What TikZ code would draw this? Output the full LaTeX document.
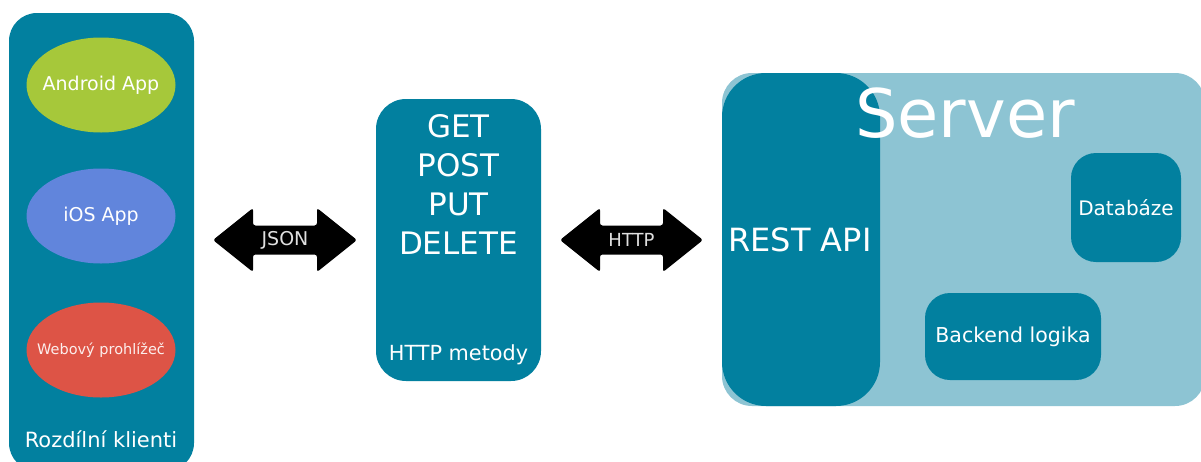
\documentclass[tikz,border=0pt]{standalone}
\usepackage{fontspec}
\setmainfont{DejaVu Sans}
\usetikzlibrary{shapes.geometric}
\definecolor{tealbox}{HTML}{02809F}
\definecolor{lightteal}{HTML}{8DC4D3}
\definecolor{andgreen}{HTML}{A6C83A}
\definecolor{iosblue}{HTML}{6185DC}
\definecolor{webred}{HTML}{DD5446}
\tikzset{
  panel/.style={fill=tealbox, draw=none, rounded corners=#1, inner sep=0pt},
  panel/.default=28pt,
  client/.style={ellipse, draw=none, minimum width=149pt, minimum height=95pt, inner sep=0pt},
  wtext/.style={text=white, inner sep=0pt},
  fsz/.style={font=\fontsize{#1}{#1}\selectfont},
  dblarrow/.style={fill=black, rounded corners=2.5pt},
}
\begin{document}
\begin{tikzpicture}[x=1pt,y=-1pt]
\clip (0,0) rectangle (1201,461);
\fill[white] (0,0) rectangle (1201,461);
% Clients panel
\node[panel, minimum width=185pt, minimum height=458pt] (clients) at (101.5,242) {};
\node[client, fill=andgreen] (android) at (101,85) {};
\node[wtext, fsz=19] (androidlbl) at (android) {Android App};
\node[client, fill=iosblue] (ios) at (101,216) {};
\node[wtext, fsz=19] (ioslbl) at (ios) {iOS App};
\node[client, fill=webred] (web) at (101,350) {};
\node[wtext, fsz=14.5, text=white!90!webred] (weblbl) at (web) {Webový prohlížeč};
\node[wtext, fsz=21] (clientslbl) at (101,439) {Rozdílní klienti};
% JSON arrow
\coordinate (jc) at (285,240);
\fill[dblarrow] ([shift={(-72,0)}]jc) -- ([shift={(-32,-32)}]jc) -- ([shift={(-32,-14.5)}]jc) -- ([shift={(32,-14.5)}]jc) -- ([shift={(32,-32)}]jc) -- ([shift={(72,0)}]jc) -- ([shift={(32,32)}]jc) -- ([shift={(32,14.5)}]jc) -- ([shift={(-32,14.5)}]jc) -- ([shift={(-32,32)}]jc) -- cycle;
\node[wtext, fsz=19, text=white!88!black] (json) at (jc) {JSON};
% HTTP methods
\node[panel=30pt, minimum width=165pt, minimum height=282pt] (methodsbox) at (458.5,240) {};
\node[wtext, align=center, font=\fontsize{31}{39}\selectfont] (methods) at (458.5,184) {GET\\POST\\PUT\\DELETE};
\node[wtext, fsz=20.8] (methodslbl) at (458.5,355) {HTTP metody};
% HTTP arrow
\coordinate (hc) at (631.5,240);
\fill[dblarrow] ([shift={(-71.5,0)}]hc) -- ([shift={(-31.5,-32)}]hc) -- ([shift={(-31.5,-14.5)}]hc) -- ([shift={(31.5,-14.5)}]hc) -- ([shift={(31.5,-32)}]hc) -- ([shift={(71.5,0)}]hc) -- ([shift={(31.5,32)}]hc) -- ([shift={(31.5,14.5)}]hc) -- ([shift={(-31.5,14.5)}]hc) -- ([shift={(-31.5,32)}]hc) -- cycle;
\node[wtext, fsz=18, text=white!88!black] (http) at (hc) {HTTP};
% Server
\node[fill=lightteal, rounded corners=30pt, minimum width=483pt, minimum height=333pt, inner sep=0pt] (server) at (963.5,239.5) {};
\node[panel=44pt, minimum width=158pt, minimum height=333pt] (rest) at (801,239.5) {};
\node[wtext, fsz=32] (restlbl) at (800,240) {REST API};
\node[wtext, anchor=base, fsz=67] (serverlbl) at (965,137) {Server};
\node[panel=25pt, minimum width=110pt, minimum height=109pt] (db) at (1126,207.5) {};
\node[wtext, fsz=20] (dblbl) at (db) {Databáze};
\node[panel=25pt, minimum width=176pt, minimum height=87pt] (backend) at (1013,336.5) {};
\node[wtext, fsz=20.5] (backendlbl) at (backend) {Backend logika};
\end{tikzpicture}
\end{document}
